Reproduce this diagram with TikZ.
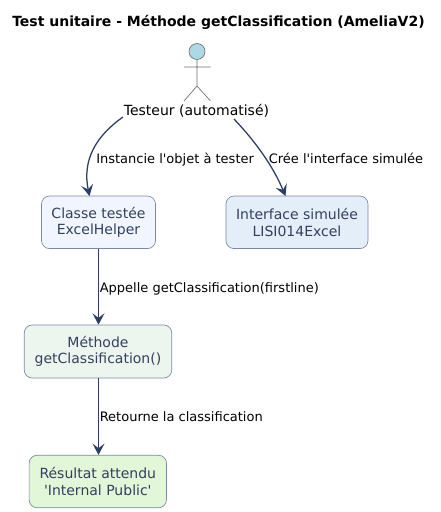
\documentclass[tikz,border=0pt]{standalone}
\usepackage{fontspec}
\setmainfont{DejaVu Sans}
\usetikzlibrary{arrows.meta}
\definecolor{edgeblue}{HTML}{2C3E63}
\definecolor{boxline}{HTML}{7C88A4}
\definecolor{boxtext}{HTML}{34405E}
\definecolor{actorfill}{HTML}{ADD8E6}
\definecolor{actorline}{HTML}{6E6E6E}
\definecolor{fillclasse}{HTML}{F0F5FF}
\definecolor{filliface}{HTML}{E3EEF9}
\definecolor{fillmeth}{HTML}{EDF6EE}
\definecolor{fillres}{HTML}{E2F6D8}
\tikzset{
  px/.style={x=0.75pt,y=-0.75pt},
  box/.style={draw=boxline,line width=0.5pt,rounded corners=6pt,inner sep=0pt,align=center,text=boxtext,font=\fontsize{10.5pt}{12.4pt}\selectfont},
  flow/.style={draw=edgeblue,line width=0.95pt,-{Stealth[length=8.5pt,width=9pt,inset=3.5pt]}},
  lab/.style={font=\fontsize{9.75pt}{11.5pt}\selectfont,text=black,inner sep=0pt,anchor=west},
  limb/.style={draw=actorline,line width=0.5pt}
}
\begin{document}
\begin{tikzpicture}[px]
\useasboundingbox (0,0) rectangle (441,512);
\node[font=\fontsize{10.5pt}{12pt}\selectfont\bfseries,inner sep=0pt] (title) at (218.5,22) {Test unitaire - Méthode getClassification (AmeliaV2)};
% actor
\node[circle,draw=actorline,fill=actorfill,line width=0.5pt,minimum size=12pt,inner sep=0pt] (head) at (197,51.5) {};
\coordinate (neck) at (197,60);
\coordinate (hip) at (197,86);
\coordinate (armL) at (184,67);
\coordinate (armR) at (210.5,67);
\coordinate (legL) at (184,101);
\coordinate (legR) at (210.5,101);
\draw[limb] (neck) -- (hip) (armL) -- (armR) (legL) -- (hip) -- (legR);
\node[font=\fontsize{10.5pt}{12pt}\selectfont,inner sep=0pt] (tester) at (196.5,110.5) {Testeur (automatisé)};
% boxes
\node[box,fill=fillclasse,minimum width=85.5pt,minimum height=39.4pt] (classe) at (98.5,222.3) {Classe testée\\ExcelHelper};
\node[box,fill=filliface,minimum width=106.5pt,minimum height=39.4pt] (iface) at (297,222.3) {Interface simulée\\LISI014Excel};
\node[box,fill=fillmeth,minimum width=110.6pt,minimum height=39.8pt] (meth) at (98,351.5) {Méthode\\getClassification()};
\node[box,fill=fillres,minimum width=103pt,minimum height=39.4pt] (res) at (97.8,481.5) {Résultat attendu\\\textquotesingle Internal Public\textquotesingle};
% connector ends
\coordinate (s1) at (123,117);
\coordinate (e1) at (89.5,196);
\coordinate (s2) at (234,119);
\coordinate (e2) at (285.5,196);
\draw[flow] (s1) .. controls (96,136) and (82,160) .. (e1);
\draw[flow] (s2) .. controls (255,141) and (273,166) .. (e2);
\draw[flow] (classe.south) -- (classe.south |- meth.north);
\draw[flow] (classe.south |- meth.south) -- (classe.south |- res.north);
% labels
\node[lab] (l1) at (96,159.5) {Instancie l\textquotesingle objet à tester};
\node[lab] (l2) at (268.5,158) {Crée l\textquotesingle interface simulée};
\node[lab] (l3) at (99.5,288.5) {Appelle getClassification(firstline)};
\node[lab] (l4) at (99.5,416.5) {Retourne la classification};
\end{tikzpicture}
\end{document}
